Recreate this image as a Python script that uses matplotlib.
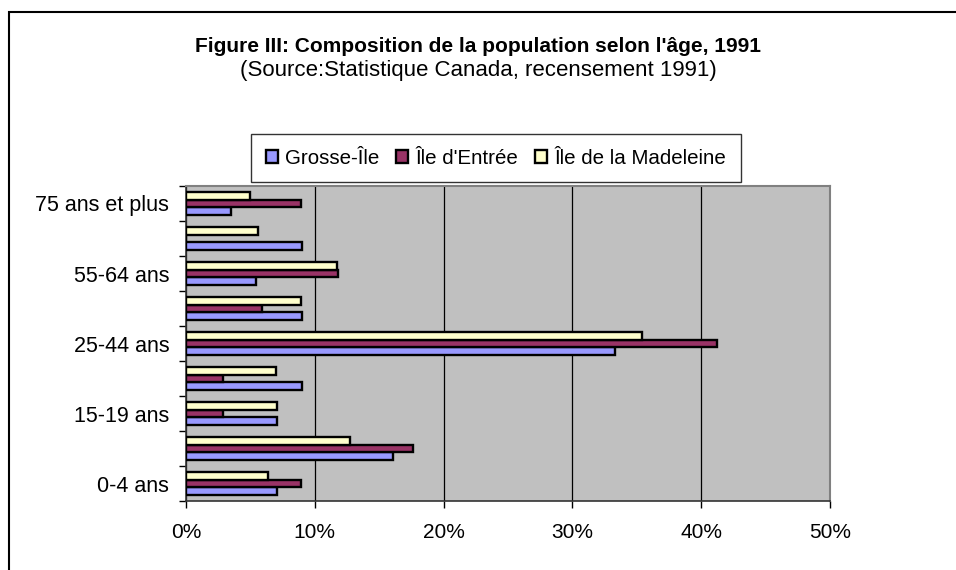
import numpy as np
import matplotlib
matplotlib.use("Agg")
import matplotlib.pyplot as plt
from matplotlib.patches import Rectangle
from matplotlib.ticker import FuncFormatter

plt.rcParams['font.family'] = ['Liberation Sans', 'DejaVu Sans']

# Data (percent of population), bottom to top
categories = ["0-4 ans", "5-14 ans", "15-19 ans", "20-24 ans", "25-44 ans",
              "45-54 ans", "55-64 ans", "65-74 ans", "75 ans et plus"]
grosse_ile = [7.1, 16.1, 7.1, 9.0, 33.3, 9.0, 5.4, 9.0, 3.5]
ile_entree = [8.9, 17.6, 2.9, 2.9, 41.2, 5.9, 11.8, 0.0, 8.9]
ile_madeleine = [6.4, 12.7, 7.1, 7.0, 35.4, 8.9, 11.7, 5.6, 5.0]
series_names = ["Grosse-Île", "Île d'Entrée", "Île de la Madeleine"]
colors = ["#9999FF", "#993366", "#FFFFCC"]

W, H = 956, 570
fig = plt.figure(figsize=(W / 100, H / 100), dpi=100)

# outer frame (only left/top visible in the image)
fig.patches.append(Rectangle((9 / W, -0.2), 1.2, 1 - 12 / H + 0.2,
                             transform=fig.transFigure, fill=False,
                             edgecolor="black", lw=1.5))

ax = fig.add_axes([186 / W, 1 - 501 / H, (830 - 186) / W, (501 - 186) / H])
ax.set_facecolor("#C0C0C0")

y = np.arange(len(categories))
bh = 0.21
for i, (vals, col) in enumerate(zip([grosse_ile, ile_entree, ile_madeleine], colors)):
    ax.barh(y + (i - 1) * bh, vals, height=bh, color=col, edgecolor="black",
            linewidth=1.7, label=series_names[i], zorder=3)

ax.set_xlim(0, 50)
ax.set_ylim(-0.5, len(categories) - 0.5)
ax.set_xticks(np.arange(0, 51, 10))
ax.xaxis.set_major_formatter(FuncFormatter(lambda v, p: f"{v:.0f}%"))
ax.grid(axis="x", color="black", lw=0.9, zorder=1)

ax.set_yticks(y)
ax.set_yticklabels([c if i % 2 == 0 else "" for i, c in enumerate(categories)])
ax.set_yticks(np.arange(-0.5, len(categories), 1), minor=True)
ax.tick_params(axis="y", which="major", length=0, pad=12, labelsize=15.5)
ax.tick_params(axis="y", which="minor", length=5, width=1)
ax.tick_params(axis="x", length=5, width=1, pad=11, labelsize=15)

for s in ["top", "right"]:
    ax.spines[s].set_color("#808080")
    ax.spines[s].set_linewidth(1.5)
for s in ["left", "bottom"]:
    ax.spines[s].set_color("#333333")
    ax.spines[s].set_linewidth(1.2)

fig.text(0.5, 1 - 47 / H, "Figure III: Composition de la population selon l'âge, 1991",
         ha="center", va="center", fontsize=15, fontweight="bold")
fig.text(0.5, 1 - 71 / H, "(Source:Statistique Canada, recensement 1991)",
         ha="center", va="center", fontsize=16)

leg = fig.legend(loc="center", bbox_to_anchor=(496 / W, 1 - 158 / H), ncol=3,
                 fontsize=14.8, frameon=True, fancybox=False, edgecolor="black",
                 handlelength=0.6, handleheight=0.6, handletextpad=0.35,
                 columnspacing=0.8, borderpad=0.7, borderaxespad=0)
leg.get_frame().set_linewidth(1.0)

fig.savefig("out.png", dpi=100, facecolor="white")
